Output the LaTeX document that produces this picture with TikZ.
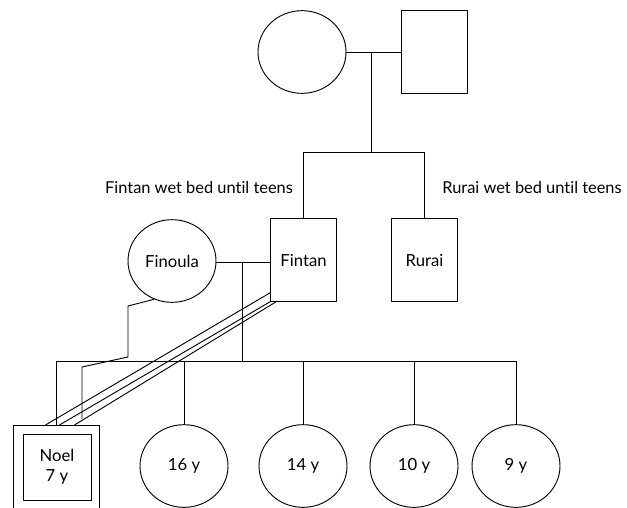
\documentclass[tikz,border=0pt]{standalone}
\usepackage{fontspec}
\setmainfont[Ligatures=NoCommon]{Lato}
\usetikzlibrary{shapes.geometric,calc}

\begin{document}
\begin{tikzpicture}[x=0.75pt,y=-0.75pt,line width=0.7pt,
  female/.style={draw,ellipse,minimum width=66pt,minimum height=62pt,inner sep=0pt,font=\fontsize{12.5}{14}\selectfont},
  male/.style={draw,rectangle,minimum width=49.5pt,minimum height=62pt,inner sep=0pt,font=\fontsize{12.5}{14}\selectfont},
  note/.style={font=\fontsize{12.3}{14}\selectfont}]
\useasboundingbox (0,0) rectangle (627,507);
% grandparents
\node[female] (gm) at (302,52) {};
\node[male] (gf) at (434.5,52) {};
\coordinate (m1) at (371,52);
\coordinate (sib) at (371,152);
\draw (gm) -- (gf);
\draw (m1) -- (sib);
% Fintan and Rurai
\node[male] (fintan) at (303.5,260) {Fintan};
\node[male] (rurai) at (424.5,260) {Rurai};
\draw (fintan.north) -- (fintan.north |- sib) -- (rurai.north |- sib) -- (rurai.north);
\node[note] (fnote) at (199,188) {Fintan wet bed until teens};
\node[note] (rnote) at (532,188) {Rurai wet bed until teens};
% Finoula
\node[female] (finoula) at (172,261) {Finoula};
\coordinate (m2) at (242,262);
\coordinate (kids) at (242,361);
\draw (finoula.east |- m2) -- (fintan.west |- m2);
\draw (m2) -- (kids);
% children
\node[draw,minimum width=65pt,minimum height=67pt,inner sep=0pt] (noel) at (56.5,470) {};
\node[draw,minimum width=51pt,minimum height=49.5pt,inner sep=0pt,align=center,
  font=\fontsize{12.5}{15}\selectfont] (noelin) at (57,467) {Noel\\7 y};
\node[female] (c16) at (184,466) {16 y};
\node[female] (c14) at (303,466) {14 y};
\node[female] (c10) at (414,466) {10 y};
\node[female] (c9) at (516,466) {9 y};
\draw (noel.north) -- (noel.north |- kids) -- (c9.north |- kids) -- (c9.north);
\foreach \c in {c16,c14,c10}
  \draw (\c.north) -- (\c.north |- kids);
% line from Finoula to Noel
\coordinate (zend) at (82,419);
\draw (finoula.245) -- (128,306) -- (128,357) -- (82,367) -- (zend);
% triple line from Fintan to Noel
\draw ($(fintan.south west)+(0,-9)$) -- ($(noel.north west)+(33,0)$);
\draw (fintan.south west) -- ($(noel.north west)+(47,0)$);
\draw ($(fintan.south west)+(6,0)$) -- ($(noel.north west)+(62,0)$);
\end{tikzpicture}
\end{document}
